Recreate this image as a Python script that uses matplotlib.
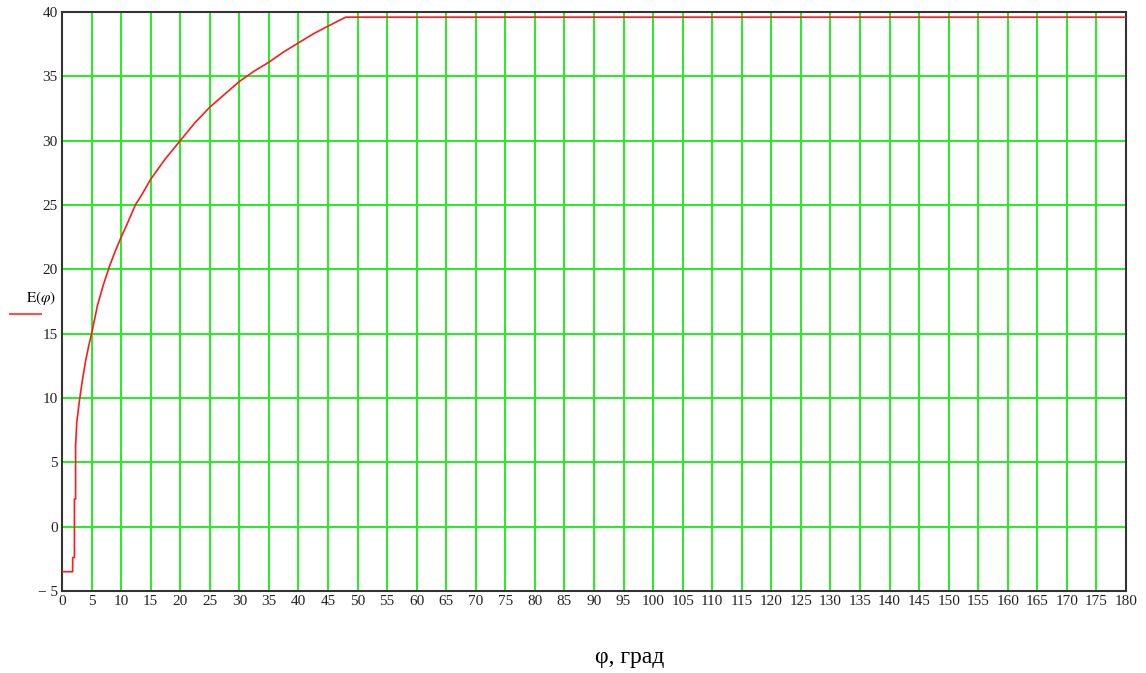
import matplotlib
matplotlib.use("Agg")
import matplotlib.pyplot as plt
from matplotlib.lines import Line2D

plt.rcParams["mathtext.fontset"] = "stix"

# Data
phi = [0, 1.8, 1.8, 2.1, 2.1, 2.3, 2.3, 2.5, 2.95, 3.45, 4.0, 4.5, 5.0, 6.0, 7.0, 8.0, 9.0,
       10.0, 11.0, 12.4, 13.5, 15.0, 17.5, 20.0, 22.5, 25.0, 27.5, 30.0, 32.5, 35.0, 37.5,
       40.0, 42.5, 45.0, 48.0, 180.0]
E = [-3.5, -3.5, -2.4, -2.4, 2.15, 2.15, 6.3, 8.1, 9.8, 11.4, 12.9, 14.0, 15.0, 17.2, 18.8,
     20.2, 21.4, 22.5, 23.5, 25.0, 25.8, 27.0, 28.6, 30.0, 31.4, 32.6, 33.6, 34.6, 35.4,
     36.1, 36.9, 37.6, 38.3, 38.9, 39.6, 39.6]

x_ticks = list(range(0, 181, 5))
y_ticks = list(range(-5, 41, 5))
x_tick_labels = [str(v) for v in x_ticks]
y_tick_labels = [("\u2212 " + str(-v)) if v < 0 else str(v) for v in y_ticks]

fig = plt.figure(figsize=(11.46, 6.73), dpi=100)
ax = fig.add_axes([62 / 1146, 1 - 591 / 673, (1126 - 62) / 1146, (591 - 12) / 673])

ax.plot(phi, E, color="#ff1a1a", linewidth=1.2, zorder=3)

ax.set_xlim(0, 180)
ax.set_ylim(-5, 40)
ax.set_xticks(x_ticks)
ax.set_yticks(y_ticks)
ax.set_xticklabels(x_tick_labels, fontfamily="Liberation Serif", fontsize=11)
ax.set_yticklabels(y_tick_labels, fontfamily="Liberation Serif", fontsize=11)
ax.tick_params(axis="both", length=0, pad=3, colors="#222222")
ax.grid(True, color="#22ee22", linewidth=1.4, zorder=1)
ax.set_axisbelow(True)
for s in ax.spines.values():
    s.set_color("#333333")
    s.set_linewidth(1.5)

# y label with red underline (Mathcad style)
fig.text(26 / 1146, 1 - 298 / 673, r"$\mathrm{E}(\varphi)$", fontsize=11,
         ha="left", va="center")
fig.add_artist(Line2D([10 / 1146, 41 / 1146], [1 - 314 / 673, 1 - 314 / 673],
                      color="#ff5050", linewidth=1.5, transform=fig.transFigure))

fig.text(630 / 1146, 1 - 658 / 673, "\u03c6, град", fontfamily="Liberation Serif",
         fontsize=17, ha="center", va="center")

fig.savefig("out.png", dpi=100)
